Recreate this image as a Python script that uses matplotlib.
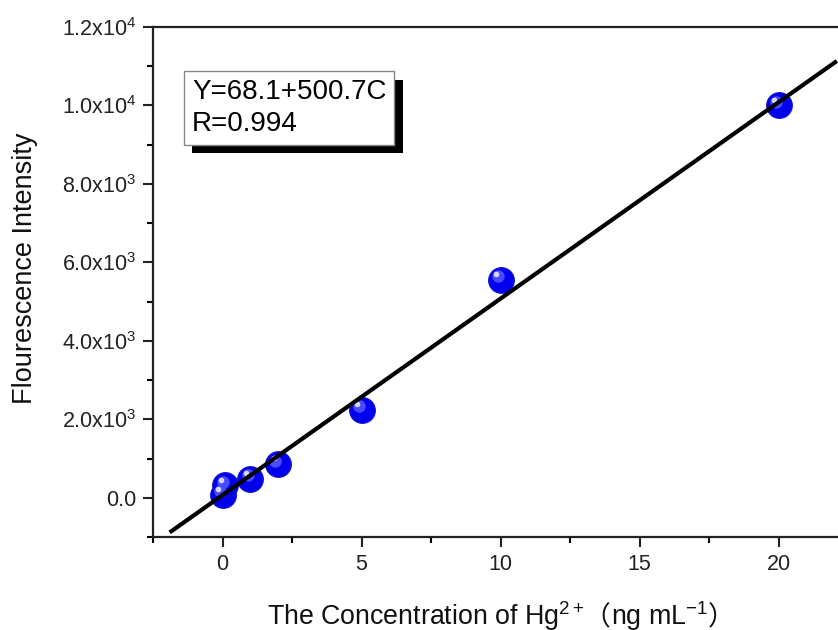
import numpy as np
import matplotlib
matplotlib.use("Agg")
import matplotlib.pyplot as plt
import matplotlib.patheffects as pe
from matplotlib.transforms import offset_copy
from matplotlib.offsetbox import TextArea, HPacker, AnnotationBbox

plt.rcParams['font.family'] = ['Liberation Sans', 'DejaVu Sans']
plt.rcParams['mathtext.fontset'] = 'custom'
plt.rcParams['mathtext.rm'] = 'Liberation Sans'
plt.rcParams['mathtext.it'] = 'Liberation Sans:italic'
plt.rcParams['mathtext.bf'] = 'Liberation Sans:bold'
plt.rcParams['mathtext.default'] = 'regular'

# data
conc = [0, 0.1, 1, 2, 5, 10, 20]
intensity = [80, 320, 490, 860, 2250, 5560, 10000]
intercept = 68.1
slope = 500.7
fit_x = [-1.9, 22.1]
yticks = [0, 2000, 4000, 6000, 8000, 10000, 12000]
ytick_labels = ['0.0', '2.0x10$^{3}$', '4.0x10$^{3}$', '6.0x10$^{3}$',
                '8.0x10$^{3}$', '1.0x10$^{4}$', '1.2x10$^{4}$']
xticks = [0, 5, 10, 15, 20]

fig = plt.figure(figsize=(8.38, 6.30), dpi=100)
ax = fig.add_axes([153/838, 93/630, 695/838, 510/630])

fx = np.array(fit_x)
ax.plot(fx, intercept + slope*fx, color='black', lw=3, zorder=3, solid_capstyle='butt')

# sphere-like markers
ax.plot(conc, intensity, 'o', ms=18.5, color='#0000ee', mec='#1010d0', mew=0.8, zorder=2)
hl1 = offset_copy(ax.transData, fig=fig, x=-2, y=2.5, units='points')
ax.plot(conc, intensity, 'o', ms=9, color='#4a4aff', mew=0, transform=hl1, zorder=2)
hl2 = offset_copy(ax.transData, fig=fig, x=-3, y=4, units='points')
ax.plot(conc, intensity, 'o', ms=4, color='#d8d8ff', mew=0, transform=hl2, zorder=2)

ax.set_xlim(-2.5, 22.5)
ax.set_ylim(-1000, 12000)
ax.set_xticks(xticks)
ax.set_xticks(np.arange(-2.5, 22.6, 2.5), minor=True)
ax.set_yticks(yticks)
ax.set_yticklabels(ytick_labels)
ax.set_yticks(np.arange(-1000, 12001, 1000), minor=True)
ax.tick_params(which='major', direction='out', length=7, width=1.5, labelsize=15.5, colors='#222222', pad=5)
ax.tick_params(which='minor', direction='out', length=4, width=1.5)
for s in ax.spines.values():
    s.set_linewidth(1.6)
    s.set_color('#222222')

ax.set_ylabel('Flourescence Intensity', fontsize=19.5, labelpad=17, color='#111111')
ax.yaxis.label.set_y(0.527)

# x label with full-width parentheses
lat = dict(fontsize=19.3, family=['Liberation Sans'], color='#111111')
cjk = dict(fontsize=19.3, family=['Noto Sans CJK SC'], color='#111111')
parts = [TextArea('The Concentration of Hg$^{2+}$', textprops=lat),
         TextArea('\uff08', textprops=cjk),
         TextArea('ng mL$^{-1}$', textprops=lat),
         TextArea('\uff09', textprops=cjk)]
box = HPacker(children=parts, align='baseline', pad=0, sep=0)
ab = AnnotationBbox(box, (0.5, 0.0), xycoords='axes fraction',
                    xybox=(0, -57), boxcoords='offset points',
                    box_alignment=(0.5, 0.5), frameon=False, annotation_clip=False)
ax.add_artist(ab)

ax.text(0.056, 0.898, 'Y=68.1+500.7C\nR=0.994', transform=ax.transAxes,
        fontsize=20, va='top', ha='left', linespacing=1.3,
        bbox=dict(boxstyle='square,pad=0.28', fc='white', ec='#888888', lw=1,
                  path_effects=[pe.withSimplePatchShadow(offset=(6, -6), shadow_rgbFace='black', alpha=1)]))

fig.savefig('out.png', dpi=100)
